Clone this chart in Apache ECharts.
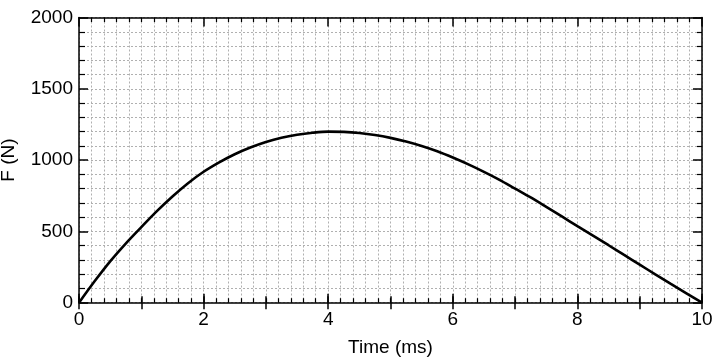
<!DOCTYPE html>
<html>
<head>
<meta charset="utf-8">
<script src="https://cdn.jsdelivr.net/npm/echarts@6/dist/echarts.min.js"></script>
<style>html,body{margin:0;padding:0;background:#fff}#c{width:720px;height:360px}</style>
</head>
<body>
<div id="c"></div>
<script>
var timeMs = [0, 0.25, 0.5, 0.75, 1, 1.25, 1.5, 1.75, 2, 2.25, 2.5, 2.75, 3, 3.25, 3.5, 3.75, 4, 4.25, 4.5, 4.75, 5,
  5.25, 5.5, 5.75, 6, 6.25, 6.5, 6.75, 7, 7.25, 7.5, 7.75, 8, 8.25, 8.5, 8.75, 9, 9.25, 9.5, 9.75, 10];
var forceN = [0, 150, 290, 415, 530, 642, 745, 838, 918, 984, 1041, 1088, 1127, 1157, 1178, 1192, 1200, 1198, 1190, 1176, 1156,
  1130, 1099, 1062, 1018, 970, 918, 862, 800, 738, 672, 605, 537, 470, 403, 335, 267, 199, 132, 66, 0];
var xTicks = [0, 2, 4, 6, 8, 10];
var yTicks = [0, 500, 1000, 1500, 2000];

var FONT = 'Liberation Sans';
var grid = {left: 79, right: 18, top: 17.5, bottom: 57.3, containLabel: false, outerBoundsMode: 'none'};
var gridLine = {show: true, lineStyle: {color: '#b0b0b0', width: 1, type: [2, 2]}};
function xa(opts) {
  return Object.assign({
    type: 'value', min: 0, max: 10, interval: 2,
    axisLine: {show: true, onZero: false, lineStyle: {color: '#000', width: 1.5}},
    axisLabel: {show: false},
    splitLine: {show: false},
    minorSplitLine: {show: false}
  }, opts);
}
function ya(opts) {
  return Object.assign({
    type: 'value', min: 0, max: 2000, interval: 500,
    axisLine: {show: true, onZero: false, lineStyle: {color: '#000', width: 1.5}},
    axisLabel: {show: false},
    splitLine: {show: false},
    minorSplitLine: {show: false}
  }, opts);
}
var chart = echarts.init(document.getElementById('c'), null, {renderer: 'canvas'});
chart.setOption({
  animation: false,
  grid: grid,
  xAxis: [
    xa({position: 'bottom',
      name: 'Time (ms)', nameLocation: 'middle', nameGap: 36,
      nameTextStyle: {fontFamily: FONT, fontSize: 19, color: '#000'},
      axisLabel: {show: true, fontFamily: FONT, fontSize: 19, color: '#000', margin: 8,
        formatter: function (v) { return xTicks.indexOf(v) >= 0 ? String(v) : ''; }},
      axisTick: {show: true, inside: true, length: 9, lineStyle: {color: '#000', width: 1.5}},
      minorTick: {show: true, splitNumber: 10, length: 4.5, lineStyle: {color: '#000', width: 1.2}},
      splitLine: gridLine, minorSplitLine: gridLine}),
    xa({position: 'bottom', interval: 1, axisLine: {show: false},
      axisTick: {show: true, inside: true, length: 6.5, lineStyle: {color: '#000', width: 1.5}}}),
    xa({position: 'top',
      axisTick: {show: true, inside: true, length: 9, lineStyle: {color: '#000', width: 1.5}},
      minorTick: {show: true, splitNumber: 10, length: 4.5, lineStyle: {color: '#000', width: 1.2}}}),
    xa({position: 'top', interval: 1, axisLine: {show: false},
      axisTick: {show: true, inside: true, length: 6.5, lineStyle: {color: '#000', width: 1.5}}})
  ],
  yAxis: [
    ya({position: 'left',
      name: 'F (N)', nameLocation: 'middle', nameGap: 61,
      nameTextStyle: {fontFamily: FONT, fontSize: 19, color: '#000'},
      axisLabel: {show: true, fontFamily: FONT, fontSize: 19, color: '#000', margin: 6,
        formatter: function (v) { return yTicks.indexOf(v) >= 0 ? String(v) : ''; }},
      axisTick: {show: true, inside: true, length: 9, lineStyle: {color: '#000', width: 1.5}},
      minorTick: {show: true, splitNumber: 5, length: 6, lineStyle: {color: '#000', width: 1.2}},
      splitLine: gridLine, minorSplitLine: gridLine}),
    ya({position: 'right',
      axisTick: {show: true, inside: true, length: 9, lineStyle: {color: '#000', width: 1.5}},
      minorTick: {show: true, splitNumber: 5, length: 5, lineStyle: {color: '#000', width: 1.2}}})
  ],
  series: [{
    type: 'line', xAxisIndex: 0, yAxisIndex: 0,
    data: timeMs.map(function (t, i) { return [t, forceN[i]]; }),
    smooth: 0.3, showSymbol: false, symbol: 'none',
    lineStyle: {color: '#000', width: 2.6}
  }]
});
</script>
</body>
</html>
